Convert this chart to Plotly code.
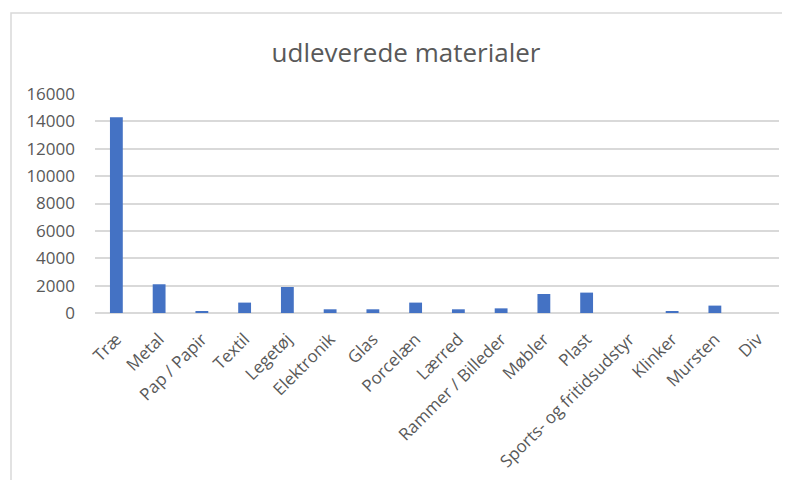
import plotly.graph_objects as go

categories = ["Træ", "Metal", "Pap / Papir", "Textil", "Legetøj", "Elektronik", "Glas",
              "Porcelæn", "Lærred", "Rammer / Billeder", "Møbler", "Plast",
              "Sports- og fritidsudstyr", "Klinker", "Mursten", "Div"]
values = [14300, 2100, 120, 760, 1900, 270, 270, 760, 270, 340, 1390, 1490, 0, 120, 540, 0]
y_ticks = [0, 2000, 4000, 6000, 8000, 10000, 12000, 14000, 16000]
y_tick_labels = ["0", "2000", "4000", "6000", "8000", "10000", "12000", "14000", "16000"]
title_text = "udleverede materialer"

fig = go.Figure(go.Bar(x=categories, y=values, marker_color="#4472C4", marker_line_width=0))

OFF = 8  # page body margin
W, H = 790, 480
L, T = 95 - OFF, 94 - OFF
R = W - (779 - OFF)
B = H - (313 - OFF)
pw, ph = W - L - R, H - T - B

fig.update_layout(
    width=W, height=H,
    margin=dict(l=L, r=R, t=T, b=B),
    paper_bgcolor="white", plot_bgcolor="white",
    bargap=0.7,
    showlegend=False,
    font=dict(family="Open Sans", color="#595959"),
    title=dict(text=title_text, x=(406 - OFF) / W, xref="container", xanchor="center",
               y=1 - 45 / H, yanchor="middle",
               font=dict(size=26, color="#595959", family="Open Sans")),
    xaxis=dict(tickangle=-45, tickfont=dict(size=17, color="#595959"), showgrid=False,
               showline=False, ticks="", ticklen=0, automargin=False, ticklabelstandoff=12),
    yaxis=dict(range=[0, 16000], tickvals=y_ticks, ticktext=y_tick_labels,
               tickfont=dict(size=17, color="#595959"),
               gridcolor="#d9d9d9", gridwidth=1.5, zeroline=True, zerolinecolor="#d9d9d9",
               zerolinewidth=1.5, showline=False, ticks="", ticklabelstandoff=19, automargin=False),
    shapes=[dict(type="rect", xref="paper", yref="paper",
                 x0=(11 - OFF - L) / pw, x1=(820 - L) / pw,
                 y0=(313 - 520) / ph, y1=(313 - 13) / ph,
                 line=dict(color="#d9d9d9", width=1.5), fillcolor="rgba(0,0,0,0)", layer="below")],
)

fig.write_html("out.html")
